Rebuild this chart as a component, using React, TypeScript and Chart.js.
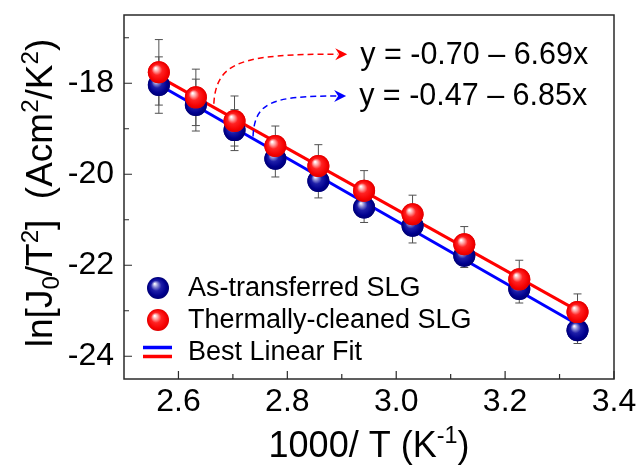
import React, { useEffect, useRef } from 'react';
import { Chart, registerables } from 'chart.js';

Chart.register(...registerables);

// ---- data ----
const invT = [2.564, 2.632, 2.703, 2.778, 2.857, 2.941, 3.03, 3.125, 3.226, 3.333];
const asTransferred = [-18.04, -18.48, -19.03, -19.66, -20.15, -20.73, -21.13, -21.79, -22.52, -23.43];
const asTransferredErr = [0.62, 0.57, 0.45, 0.4, 0.37, 0.33, 0.38, 0.26, 0.31, 0.29];
const thermallyCleaned = [-17.76, -18.31, -18.83, -19.38, -19.82, -20.36, -20.88, -21.54, -22.31, -23.03];
const thermallyCleanedErr = [0.72, 0.62, 0.55, 0.44, 0.47, 0.44, 0.42, 0.39, 0.42, 0.4];

// linear fits: index 0 = as-transferred (blue), 1 = thermally-cleaned (red)
const fitIntercepts = [-0.47, -0.7];
const fitSlopes = [-6.85, -6.69];
const fitXRange = [2.564, 3.333];

// annotation arrows (data coordinates): start on the fit line, tip near the equation
const arrowFrom = [[2.737, -19.17], [2.665, -18.45]];
const arrowTo = [[2.908, -18.28], [2.91, -17.36]];

const xTicks = [2.6, 2.8, 3.0, 3.2, 3.4];
const yTicks = [-24, -22, -20, -18];
const xRange = [2.5, 3.4];
const yRange = [-24.5, -16.5];

const seriesLabels = ['As-transferred SLG', 'Thermally-cleaned SLG', 'Best Linear Fit'];

const FONT = '"Liberation Sans", Arial, Helvetica, sans-serif';
const BLUE = '#0000ff';
const RED = '#ff0000';
const R = 11;

type Seg = { t: string; s?: 'sup' | 'sub' };
const yTitle: Seg[] = [
  { t: 'ln[J' }, { t: '0', s: 'sub' }, { t: '/T' }, { t: '2', s: 'sup' },
  { t: ']  (Acm' }, { t: '2', s: 'sup' }, { t: '/K' }, { t: '2', s: 'sup' }, { t: ')' },
];
const xTitle: Seg[] = [{ t: '1000/ T (K' }, { t: '-1', s: 'sup' }, { t: ')' }];

function sphereFill(ctx: CanvasRenderingContext2D, x: number, y: number, r: number, kind: number) {
  const g = ctx.createRadialGradient(x - r * 0.3, y - r * 0.38, r * 0.04, x, y, r);
  if (kind === 0) {
    g.addColorStop(0, '#f6f6ff');
    g.addColorStop(0.2, '#8c8cd6');
    g.addColorStop(0.45, '#1e1ea8');
    g.addColorStop(0.8, '#00008e');
    g.addColorStop(1, '#000072');
  } else {
    g.addColorStop(0, '#ffffff');
    g.addColorStop(0.22, '#ff9a9a');
    g.addColorStop(0.45, '#ff2222');
    g.addColorStop(0.85, '#f40000');
    g.addColorStop(1, '#dc0000');
  }
  return g;
}

function drawRich(ctx: CanvasRenderingContext2D, segs: Seg[], x: number, y: number, size: number) {
  const parts = segs.map((sg) => {
    const fs = sg.s ? size * 0.65 : size;
    ctx.font = `${fs}px ${FONT}`;
    return { sg, fs, w: ctx.measureText(sg.t).width };
  });
  const total = parts.reduce((a, p) => a + p.w, 0);
  let cx = x - total / 2;
  ctx.textAlign = 'left';
  ctx.textBaseline = 'alphabetic';
  ctx.fillStyle = '#000';
  parts.forEach((p) => {
    ctx.font = `${p.fs}px ${FONT}`;
    const dy = p.sg.s === 'sup' ? -size * 0.38 : p.sg.s === 'sub' ? size * 0.18 : 0;
    ctx.fillText(p.sg.t, cx, y + dy);
    cx += p.w;
  });
}

const errorBarPlugin = {
  id: 'errorBars',
  beforeDatasetsDraw(chart: any) {
    const ctx = chart.ctx;
    const ys = chart.scales.y;
    ctx.save();
    ctx.strokeStyle = '#505050';
    ctx.lineWidth = 1;
    chart.data.datasets.forEach((ds: any, i: number) => {
      if (!ds.errors) return;
      const meta = chart.getDatasetMeta(i);
      meta.data.forEach((pt: any, j: number) => {
        const v = ds.data[j].y;
        const e = ds.errors[j];
        const y1 = ys.getPixelForValue(v + e);
        const y2 = ys.getPixelForValue(v - e);
        const x = pt.x;
        ctx.beginPath();
        ctx.moveTo(x, y1); ctx.lineTo(x, y2);
        ctx.moveTo(x - 4, y1); ctx.lineTo(x + 4, y1);
        ctx.moveTo(x - 4, y2); ctx.lineTo(x + 4, y2);
        ctx.stroke();
      });
    });
    ctx.restore();
  },
  // shade the library-drawn points as spheres, dataset by dataset (keeps draw order)
  afterDatasetDraw(chart: any, args: any) {
    const ds: any = chart.data.datasets[args.index];
    if (ds.sphere === undefined) return;
    const ctx = chart.ctx;
    ctx.save();
    args.meta.data.forEach((pt: any) => {
      if (!isFinite(pt.x) || !isFinite(pt.y)) return;
      ctx.fillStyle = sphereFill(ctx, pt.x, pt.y, R, ds.sphere);
      ctx.beginPath();
      ctx.arc(pt.x, pt.y, R, 0, Math.PI * 2);
      ctx.fill();
    });
    ctx.restore();
  },
};

const framePlugin = {
  id: 'frameTicks',
  afterDatasetsDraw(chart: any) {
    const ctx = chart.ctx;
    const { left, right, top, bottom } = chart.chartArea;
    const xs = chart.scales.x;
    const ys = chart.scales.y;
    ctx.save();
    ctx.strokeStyle = '#2a2a2a';
    ctx.lineWidth = 1.5;
    ctx.strokeRect(left, top, right - left, bottom - top);
    ctx.lineWidth = 1.2;
    const minors = (arr: number[], lo: number, hi: number) => {
      const step = arr[1] - arr[0];
      const out: number[] = [];
      const cand = [arr[0] - step / 2, ...arr.map((v) => v + step / 2)];
      cand.forEach((v) => { if (v > lo + 1e-6 && v < hi - 1e-6) out.push(v); });
      return out;
    };
    ctx.beginPath();
    xTicks.forEach((v) => { const p = xs.getPixelForValue(v); ctx.moveTo(p, bottom); ctx.lineTo(p, bottom - 8); });
    minors(xTicks, xRange[0], xRange[1]).forEach((v) => { const p = xs.getPixelForValue(v); ctx.moveTo(p, bottom); ctx.lineTo(p, bottom - 5); });
    yTicks.forEach((v) => { const p = ys.getPixelForValue(v); ctx.moveTo(left, p); ctx.lineTo(left + 8, p); });
    minors(yTicks, yRange[0], yRange[1]).forEach((v) => { const p = ys.getPixelForValue(v); ctx.moveTo(left, p); ctx.lineTo(left + 5, p); });
    ctx.stroke();

    // annotation arrows and equations
    [0, 1].forEach((k) => {
      const color = k === 0 ? BLUE : RED;
      const x0 = xs.getPixelForValue(arrowFrom[k][0]);
      const y0 = ys.getPixelForValue(arrowFrom[k][1]);
      const tx = xs.getPixelForValue(arrowTo[k][0]);
      const ty = ys.getPixelForValue(arrowTo[k][1]);
      const ex = tx - 9;
      const dx = ex - x0;
      ctx.strokeStyle = color;
      ctx.lineWidth = 1.5;
      ctx.setLineDash([6, 4]);
      ctx.beginPath();
      ctx.moveTo(x0, y0);
      ctx.bezierCurveTo(x0 + 0.02 * dx, ty + 0.15 * (y0 - ty), x0 + 0.22 * dx, ty, ex, ty);
      ctx.stroke();
      ctx.setLineDash([]);
      ctx.fillStyle = color;
      ctx.beginPath();
      ctx.moveTo(tx, ty);
      ctx.lineTo(tx - 12, ty - 6);
      ctx.lineTo(tx - 8, ty);
      ctx.lineTo(tx - 12, ty + 6);
      ctx.closePath();
      ctx.fill();
      const a = fitIntercepts[k];
      const b = fitSlopes[k];
      const txt = `y = ${a.toFixed(2)} \u2013 ${Math.abs(b).toFixed(2)}x`;
      ctx.fillStyle = '#000';
      ctx.font = `30.5px ${FONT}`;
      ctx.textAlign = 'left';
      ctx.textBaseline = 'middle';
      ctx.fillText(txt, tx + 13, ty + 1);
    });
    ctx.restore();
  },
  afterDraw(chart: any) {
    const ctx = chart.ctx;
    const { left, right, top, bottom } = chart.chartArea;
    ctx.save();
    // axis titles
    drawRich(ctx, xTitle, (left + right) / 2, 457, 36);
    ctx.save();
    ctx.translate(52, (top + bottom) / 2 - 4);
    ctx.rotate(-Math.PI / 2);
    drawRich(ctx, yTitle, 0, 0, 37);
    ctx.restore();

    // legend
    const rows = [bottom - 91, bottom - 59, bottom - 27];
    const mx = left + 34;
    [0, 1].forEach((k) => {
      ctx.fillStyle = sphereFill(ctx, mx, rows[k], R, k);
      ctx.beginPath();
      ctx.arc(mx, rows[k], R, 0, Math.PI * 2);
      ctx.fill();
    });
    ctx.lineWidth = 3.5;
    ctx.strokeStyle = BLUE;
    ctx.beginPath(); ctx.moveTo(left + 19, rows[2] - 4.5); ctx.lineTo(left + 48, rows[2] - 4.5); ctx.stroke();
    ctx.strokeStyle = RED;
    ctx.beginPath(); ctx.moveTo(left + 19, rows[2] + 4.5); ctx.lineTo(left + 48, rows[2] + 4.5); ctx.stroke();
    ctx.fillStyle = '#000';
    ctx.font = `27px ${FONT}`;
    ctx.textAlign = 'left';
    ctx.textBaseline = 'middle';
    seriesLabels.forEach((lab, k) => ctx.fillText(lab, left + 64, rows[k] + 1));
    ctx.restore();
  },
};

export default function App() {
  const ref = useRef<HTMLCanvasElement | null>(null);
  useEffect(() => {
    if (!ref.current) return;
    const pts = (ys: number[]) => invT.map((x, i) => ({ x, y: ys[i] }));
    const fit = (k: number) => fitXRange.map((x) => ({ x, y: fitIntercepts[k] + fitSlopes[k] * x }));
    const chart = new Chart(ref.current, {
      type: 'scatter',
      data: {
        datasets: [
          {
            label: seriesLabels[1], data: pts(thermallyCleaned), errors: thermallyCleanedErr, sphere: 1,
            order: 0, pointRadius: R, pointHoverRadius: R, borderWidth: 0, pointBorderWidth: 0,
            backgroundColor: RED, borderColor: RED, showLine: false,
          } as any,
          {
            label: seriesLabels[0], data: pts(asTransferred), errors: asTransferredErr, sphere: 0,
            order: 1, pointRadius: R, pointHoverRadius: R, borderWidth: 0, pointBorderWidth: 0,
            backgroundColor: '#00008e', borderColor: '#00008e', showLine: false,
          } as any,
          {
            label: 'fit-red', data: fit(1), order: 2, showLine: true, pointRadius: 0,
            borderColor: RED, borderWidth: 3, backgroundColor: RED,
          } as any,
          {
            label: 'fit-blue', data: fit(0), order: 3, showLine: true, pointRadius: 0,
            borderColor: BLUE, borderWidth: 3, backgroundColor: BLUE,
          } as any,
        ],
      },
      options: {
        animation: false,
        responsive: false,
        devicePixelRatio: 1,
        layout: { padding: { left: 0, top: 15, right: 25, bottom: 0 } },
        plugins: { legend: { display: false }, tooltip: { enabled: false }, title: { display: false } },
        events: [],
        scales: {
          x: {
            type: 'linear', min: xRange[0], max: xRange[1], position: 'bottom',
            grid: { display: false, drawTicks: false }, border: { display: false },
            ticks: {
              color: '#000', font: { size: 32, family: FONT }, padding: 4,
              callback: (v: any) => Number(v).toFixed(1),
            },
            afterBuildTicks: (s: any) => { s.ticks = xTicks.map((value) => ({ value })); },
            afterFit: (s: any) => { s.height = 87; s.paddingLeft = 0; s.paddingRight = 0; },
          },
          y: {
            type: 'linear', min: yRange[0], max: yRange[1],
            grid: { display: false, drawTicks: false }, border: { display: false },
            ticks: {
              color: '#000', font: { size: 32, family: FONT }, padding: 10,
              callback: (v: any) => String(Math.round(Number(v))),
            },
            afterBuildTicks: (s: any) => { s.ticks = yTicks.map((value) => ({ value })); },
            afterFit: (s: any) => { s.width = 124; s.paddingTop = 0; s.paddingBottom = 0; },
          },
        },
      } as any,
      plugins: [errorBarPlugin, framePlugin],
    });
    return () => chart.destroy();
  }, []);
  return (
    <div style={{ position: 'absolute', left: 0, top: 0, width: 639, height: 466, background: '#fff' }}>
      <canvas ref={ref} width={639} height={466} style={{ display: 'block' }} />
    </div>
  );
}
